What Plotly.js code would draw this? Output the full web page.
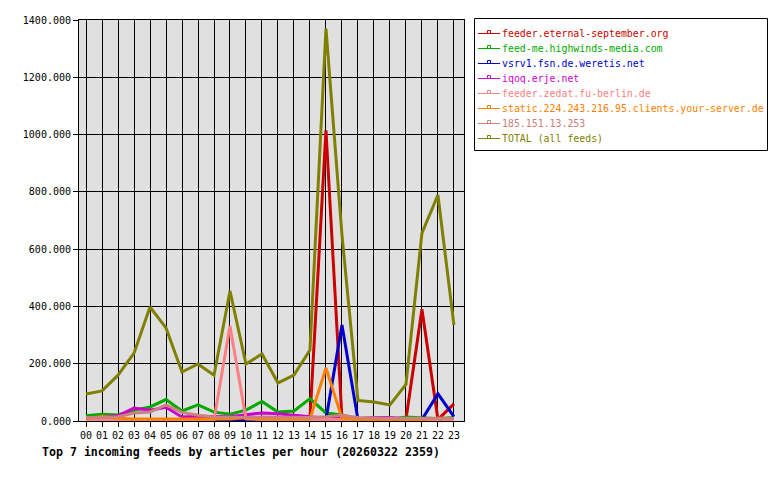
<!DOCTYPE html>
<html>
<head>
<meta charset="utf-8">
<script src="https://cdn.plot.ly/plotly-3.0.1.min.js"></script>
<style>html,body{margin:0;padding:0;background:#fff;}#chart{width:780px;height:480px;}</style>
</head>
<body>
<div id="chart"></div>
<script>
const hours = ["00","01","02","03","04","05","06","07","08","09","10","11","12","13","14","15","16","17","18","19","20","21","22","23"];
const seriesNames = ["feeder.eternal-september.org","feed-me.highwinds-media.com","vsrv1.fsn.de.weretis.net","iqoq.erje.net","feeder.zedat.fu-berlin.de","static.224.243.216.95.clients.your-server.de","185.151.13.253","TOTAL (all feeds)"];
const seriesColors = ["#cc0000","#00aa00","#0000cc","#cc00cc","#ff8080","#ff8000","#cc8080","#808000"];

const eternalSeptember = [5,5,5,5,5,5,5,5,5,5,5,5,5,5,10,1015,10,5,5,5,5,390,5,60];
const highwinds        = [18,24,21,38,49,75,35,56,31,24,38,68,31,35,78,28,21,5,5,5,14,12,8,12];
const weretis          = [0,0,0,0,0,0,0,0,0,0,2,0,0,0,0,5,335,5,2,2,2,5,95,15];
const erje             = [10,14,18,45,38,48,14,17,15,15,22,28,25,20,15,10,14,8,12,12,8,6,5,5];
const zedat            = [5,5,5,5,5,5,5,5,5,332,8,5,5,5,5,5,5,5,5,5,5,5,5,5];
const yourServer       = [8,16,10,7,7,7,7,7,7,7,12,7,7,7,7,185,10,5,5,5,5,5,10,8];
const ip185            = [12,12,15,28,31,56,30,20,14,12,12,14,14,12,12,15,20,12,10,10,10,10,10,10];
const total            = [94,105,160,237,398,325,171,199,160,454,199,234,133,160,248,1370,650,72,66,56,128,656,789,335];

const values = [eternalSeptember, highwinds, weretis, erje, zedat, yourServer, ip185, total];
const xIdx = hours.map((h, i) => i);
const mono = "DejaVu Sans Mono, monospace";

// plot area in pixels
const PL = 79, PR = 464, PT = 20, PB = 421;
const px = v => (v - PL) / (PR - PL);
const py = v => (PB - v) / (PB - PT);

const traces = values.map((v, k) => ({
  x: xIdx, y: v, type: "scatter", mode: "lines",
  line: {color: seriesColors[k], width: 3},
  name: seriesNames[k], showlegend: false, hoverinfo: "skip"
}));

// custom legend (box, line swatches, small square markers, coloured text)
const shapes = [{
  type: "rect", xref: "paper", yref: "paper",
  x0: px(474.5), x1: px(767.5), y0: py(150.5), y1: py(18.5),
  line: {color: "#000", width: 1}, fillcolor: "#fff", layer: "above"
}];
const annotations = [];
seriesNames.forEach((n, k) => {
  const cy = 33 + 15 * k;
  shapes.push({
    type: "line", xref: "paper", yref: "paper",
    x0: px(478), x1: px(500), y0: py(cy + 0.5), y1: py(cy + 0.5),
    line: {color: seriesColors[k], width: 1}, layer: "above"
  });
  shapes.push({
    type: "rect", xref: "paper", yref: "paper",
    x0: px(487.5), x1: px(490.5), y0: py(cy + 0.5), y1: py(cy - 2.5),
    line: {color: seriesColors[k], width: 1}, fillcolor: "#fff", layer: "above"
  });
  annotations.push({
    text: n, xref: "paper", yref: "paper", x: px(499.5), y: py(cy + 0.5),
    xanchor: "left", yanchor: "middle", showarrow: false,
    font: {family: mono, size: 9.9, color: seriesColors[k]}
  });
});
annotations.push({
  text: "<b>Top 7 incoming feeds by articles per hour (20260322 2359)</b>",
  xref: "paper", yref: "paper", x: px(40), y: py(452),
  xanchor: "left", yanchor: "middle", showarrow: false,
  font: {family: mono, size: 11.6, color: "#000"}
});

const layout = {
  width: 780, height: 480,
  margin: {l: PL, r: 780 - PR, t: PT, b: 480 - PB, pad: 0},
  paper_bgcolor: "#ffffff",
  plot_bgcolor: "#e0e0e0",
  font: {family: mono, size: 10, color: "#000"},
  showlegend: false,
  xaxis: {
    range: [-0.44, 23.63], tickmode: "array", tickvals: xIdx, ticktext: hours,
    showgrid: true, gridcolor: "#000", gridwidth: 1,
    showline: true, linecolor: "#000", linewidth: 1, mirror: true,
    ticks: "outside", ticklen: 5, tickcolor: "#000",
    zeroline: false, fixedrange: true,
    tickfont: {family: mono, size: 10, color: "#000"}
  },
  yaxis: {
    range: [0, 1400], tickmode: "linear", tick0: 0, dtick: 200, tickformat: ".3f",
    showgrid: true, gridcolor: "#000", gridwidth: 1,
    showline: true, linecolor: "#000", linewidth: 1, mirror: true,
    ticks: "outside", ticklen: 5, tickcolor: "#000",
    zeroline: false, fixedrange: true,
    tickfont: {family: mono, size: 10, color: "#000"}
  },
  shapes: shapes,
  annotations: annotations
};

Plotly.newPlot("chart", traces, layout, {staticPlot: true, displayModeBar: false});
</script>
</body>
</html>
